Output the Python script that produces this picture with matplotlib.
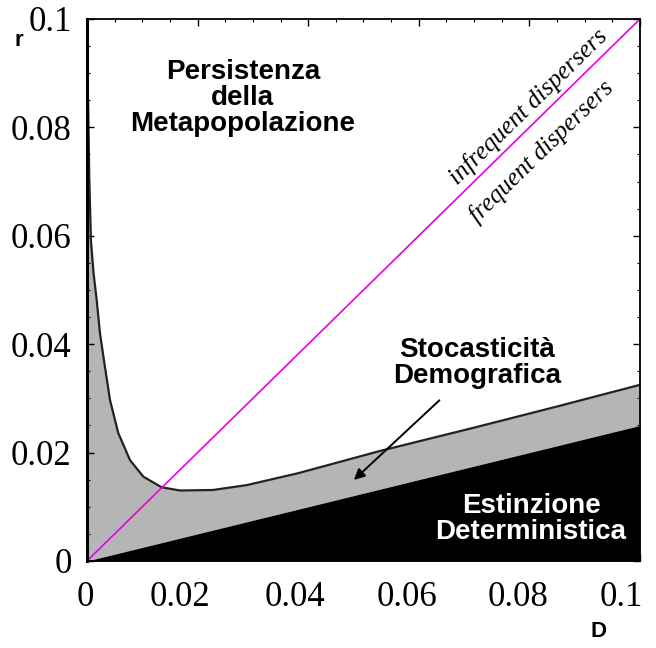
import numpy as np
import matplotlib
matplotlib.use("Agg")
from matplotlib import pyplot as plt

# dispersal rate D and critical growth rate r along the persistence boundary
D_curve = [0.0002, 0.00042, 0.00072, 0.0012, 0.00175, 0.00235, 0.00325, 0.00416,
           0.00566, 0.00778, 0.0102, 0.0135, 0.0168, 0.0228, 0.0289, 0.0382,
           0.0530, 0.0700, 0.0850, 0.1000]
r_curve = [0.0850, 0.0703, 0.0590, 0.0530, 0.0482, 0.0420, 0.0358, 0.0297,
           0.0236, 0.0186, 0.01555, 0.0136, 0.0130, 0.0131, 0.0140, 0.0162,
           0.0203, 0.0246, 0.0285, 0.0325]

# deterministic extinction boundary: r = D / 4
D_line = [0.0, 0.1]
r_line = [0.0, 0.025]

ticks = [0, 0.02, 0.04, 0.06, 0.08, 0.1]
tick_labels = ["0", "0.02", "0.04", "0.06", "0.08", "0.1"]
# the printed x labels sit a little left of their ticks (pixels)
x_label_shift = [-2, -18, -13, -12, -11, -19]

fig = plt.figure(figsize=(6.56, 6.48), dpi=100)
ax = fig.add_axes([0.1326, 0.1343, 0.843, 0.8364])

# grey band (demographic stochasticity) between the black wedge and the curve
Dg = np.array(D_curve)
lower = np.interp(Dg, D_line, r_line)
ax.fill_between(Dg, lower, r_curve, color="#b5b5b5", lw=0)
ax.fill_between(D_line, [0, 0], r_line, color="black", lw=0)
ax.plot(D_curve, r_curve, color="#222222", lw=1.6, solid_joinstyle="round")

# r = D diagonal
ax.plot([0, 0.1], [0, 0.1], color="#e600e6", lw=1.2)

ax.set_xlim(0, 0.1)
ax.set_ylim(0, 0.1)
ax.set_xticks(ticks)
ax.set_yticks(ticks)
ax.set_xticklabels([])
ax.set_yticklabels(tick_labels, family="Liberation Serif", fontsize=25)
# x labels written by hand so they can be nudged off their ticks
for t, lab, dx in zip(ticks, tick_labels, x_label_shift):
    ax.annotate(lab, xy=(t, 0), xycoords=("data", "axes fraction"),
                xytext=(dx * 0.72, -26), textcoords="offset points",
                ha="center", va="center", family="Liberation Serif",
                fontsize=25, annotation_clip=False)
ax.minorticks_on()
ax.tick_params(which="both", direction="in", top=True, right=True)
ax.tick_params(which="major", length=5, width=1, pad=11)
ax.tick_params(which="minor", length=2.5, width=0.8)
for s in ax.spines.values():
    s.set_linewidth(1.3)
ax.spines["left"].set_linewidth(2.2)

bold = dict(family="Liberation Sans", fontweight="bold", fontsize=20,
            ha="center", va="center", linespacing=1.0)
ax.text(0.0282, 0.0855, "Persistenza\ndella\nMetapopolazione", **bold)
ax.text(0.0705, 0.0366, "Stocasticità\nDemografica", **bold)
ax.text(0.0803, 0.0077, "Estinzione\nDeterministica", color="white", **bold)

ax.annotate("", xy=(0.0479, 0.0146), xytext=(0.0641, 0.0300),
            arrowprops=dict(arrowstyle="-|>", color="black", lw=1.4,
                            mutation_scale=16))

ital = dict(family="Liberation Serif", style="italic", fontsize=18,
            rotation=44.4, ha="center", va="center", rotation_mode="anchor")
ax.text(0.0799, 0.0837, "infrequent dispersers", **ital)
ax.text(0.0822, 0.0756, "frequent dispersers", **ital)

fig.text(0.028, 0.938, "r", family="Liberation Sans", fontweight="bold",
         fontsize=16, ha="center", va="center")
fig.text(0.912, 0.025, "D", family="Liberation Sans", fontweight="bold",
         fontsize=16, ha="center", va="center")

fig.savefig("out.png", dpi=100)
